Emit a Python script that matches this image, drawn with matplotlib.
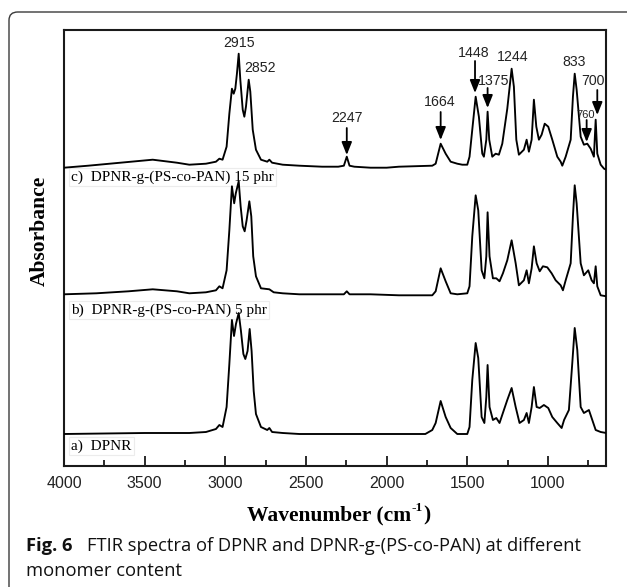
import matplotlib
matplotlib.use("Agg")
import matplotlib.pyplot as plt
from matplotlib.patches import FancyBboxPatch

# ---------------- data ----------------
# a) DPNR
a_wn = [4000, 3500, 3223, 3120, 3058, 3037, 3017, 2992, 2975, 2959, 2946, 2934, 2917, 2903, 2888, 2876,
        2862, 2849, 2837, 2824, 2810, 2779, 2740, 2727, 2710, 2644, 2541, 2200, 1924, 1760, 1717, 1696,
        1665, 1634, 1603, 1562, 1500, 1486, 1469, 1448, 1432, 1411, 1394, 1382, 1374, 1362, 1341, 1320,
        1300, 1273, 1252, 1225, 1200, 1176, 1149, 1132, 1118, 1101, 1087, 1070, 1051, 1025, 998, 973,
        942, 915, 900, 870, 849, 834, 818, 797, 777, 746, 725, 704, 673, 638]
a_abs = [0.0, 0.01, 0.01, 0.02, 0.05, 0.09, 0.07, 0.27, 0.70, 1.14, 0.98, 1.10, 1.21, 1.03, 0.80, 0.75,
         0.83, 1.05, 0.83, 0.43, 0.20, 0.07, 0.04, 0.06, 0.02, 0.01, 0.00, 0.00, 0.00, 0.00, 0.04, 0.11,
         0.33, 0.17, 0.06, 0.00, 0.00, 0.07, 0.54, 0.91, 0.76, 0.17, 0.11, 0.37, 0.69, 0.27, 0.14, 0.16,
         0.11, 0.24, 0.34, 0.46, 0.27, 0.11, 0.14, 0.21, 0.11, 0.27, 0.47, 0.27, 0.26, 0.29, 0.26, 0.17,
         0.11, 0.06, 0.14, 0.24, 0.71, 1.06, 0.84, 0.27, 0.21, 0.24, 0.14, 0.04, 0.02, 0.01]

# b) DPNR-g-(PS-co-PAN) 5 phr
b_wn = [4000, 3800, 3600, 3450, 3300, 3223, 3120, 3058, 3037, 3017, 2992, 2975, 2959, 2945, 2935, 2917,
        2905, 2892, 2880, 2868, 2851, 2839, 2827, 2810, 2779, 2727, 2700, 2644, 2541, 2400, 2265, 2247,
        2230, 2100, 1924, 1717, 1696, 1665, 1634, 1603, 1562, 1500, 1486, 1469, 1448, 1432, 1411, 1394,
        1382, 1374, 1362, 1341, 1320, 1300, 1279, 1252, 1225, 1200, 1180, 1149, 1132, 1118, 1101, 1087,
        1070, 1051, 1031, 1004, 977, 952, 921, 907, 890, 859, 845, 834, 822, 797, 777, 750, 729, 715,
        704, 694, 673, 638]
b_abs = [0.0, 0.01, 0.03, 0.05, 0.03, 0.01, 0.02, 0.04, 0.08, 0.06, 0.24, 0.64, 1.08, 0.91, 1.01, 1.13,
         0.88, 0.68, 0.63, 0.74, 0.93, 0.78, 0.38, 0.18, 0.06, 0.05, 0.02, 0.01, 0.00, 0.00, 0.00, 0.03,
         0.00, 0.00, -0.01, -0.01, 0.03, 0.26, 0.13, 0.01, 0.00, 0.01, 0.08, 0.58, 0.99, 0.84, 0.24, 0.16,
         0.38, 0.82, 0.38, 0.16, 0.16, 0.13, 0.21, 0.34, 0.54, 0.31, 0.09, 0.14, 0.24, 0.11, 0.26, 0.48,
         0.31, 0.23, 0.28, 0.27, 0.21, 0.14, 0.09, 0.04, 0.14, 0.31, 0.78, 1.09, 0.91, 0.31, 0.19, 0.24,
         0.14, 0.11, 0.28, 0.08, -0.01, -0.02]

# c) DPNR-g-(PS-co-PAN) 15 phr
c_wn = [4000, 3850, 3650, 3450, 3300, 3223, 3120, 3058, 3037, 3017, 2992, 2975, 2959, 2948, 2938, 2928,
        2917, 2907, 2892, 2882, 2872, 2855, 2845, 2830, 2810, 2779, 2740, 2727, 2710, 2644, 2541, 2400,
        2300, 2265, 2247, 2230, 2200, 2100, 2000, 1924, 1717, 1696, 1665, 1634, 1603, 1562, 1531, 1500,
        1486, 1469, 1448, 1428, 1407, 1397, 1382, 1374, 1364, 1345, 1324, 1304, 1283, 1252, 1225, 1211,
        1196, 1180, 1149, 1132, 1118, 1101, 1087, 1072, 1056, 1039, 1020, 998, 973, 942, 921, 911, 890,
        859, 845, 834, 822, 797, 777, 756, 735, 715, 704, 694, 673, 652, 638]
c_abs = [-0.01, 0.01, 0.04, 0.07, 0.04, 0.02, 0.03, 0.05, 0.08, 0.07, 0.20, 0.53, 0.78, 0.73, 0.78, 0.93,
         1.13, 0.87, 0.57, 0.50, 0.60, 0.87, 0.75, 0.37, 0.17, 0.07, 0.05, 0.07, 0.04, 0.02, 0.01, 0.00,
         0.00, 0.01, 0.10, 0.01, 0.00, -0.01, -0.01, 0.00, 0.01, 0.03, 0.23, 0.13, 0.05, 0.03, 0.02, 0.02,
         0.10, 0.37, 0.70, 0.50, 0.13, 0.10, 0.27, 0.55, 0.27, 0.10, 0.13, 0.12, 0.23, 0.58, 0.98, 0.80,
         0.27, 0.12, 0.17, 0.27, 0.15, 0.27, 0.67, 0.40, 0.27, 0.32, 0.43, 0.40, 0.27, 0.10, 0.05, 0.01, 0.10,
         0.27, 0.70, 0.93, 0.77, 0.30, 0.22, 0.23, 0.18, 0.10, 0.47, 0.13, 0.02, -0.02, -0.03]

series_names = ["a)  DPNR", "b)  DPNR-g-(PS-co-PAN) 5 phr", "c)  DPNR-g-(PS-co-PAN) 15 phr"]
series_offsets = [0.32, 1.717, 2.993]
label_y = [0.20, 1.56, 2.89]

# peak annotations on spectrum c: label, text x, text y, arrow x, arrow tail y, arrow head y
peak_labels = ["2915", "2852", "2247", "1664", "1448", "1375", "1244", "833", "760", "700"]
peak_text_x = [2912, 2785, 2246, 1669, 1458, 1335, 1221, 839, 764, 720]
peak_text_y = [4.23, 3.98, 3.48, 3.64, 4.13, 3.85, 4.09, 4.04, 3.51, 3.85]
arrow_x = [None, None, 2247, 1665, 1452, 1374, None, None, 760, 694]
arrow_tail = [None, None, 3.38, 3.54, 4.05, 3.78, None, None, 3.46, 3.76]
arrow_head = [None, None, 3.11, 3.26, 3.73, 3.58, None, None, 3.24, 3.51]

x_major = [4000, 3500, 3000, 2500, 2000, 1500, 1000]
x_minor = [3750, 3250, 2750, 2250, 1750, 1250, 750]

# ---------------- figure ----------------
W, H = 627, 587
fig = plt.figure(figsize=(W / 100, H / 100), dpi=100)
fig.patch.set_facecolor("white")

# outer rounded frame
frame = FancyBboxPatch((9 / W, -0.05), (636 - 9) / W, (587 - 12) / H + 0.05,
                       boxstyle="round,pad=0,rounding_size=0.014",
                       transform=fig.transFigure, facecolor="none",
                       edgecolor="#3a3a3a", lw=1.0, clip_on=False)
fig.patches.append(frame)

ax = fig.add_axes([64 / W, 1 - 466 / H, (606 - 64) / W, (466 - 30) / H])
ax.set_xlim(4000, 640)
ax.set_ylim(0, 4.36)

spectra = [(a_wn, a_abs), (b_wn, b_abs), (c_wn, c_abs)]
for (wn, ab), off in zip(spectra, series_offsets):
    ax.plot(wn, [v + off for v in ab], color="black", lw=1.35, zorder=3,
            solid_joinstyle="round")

serif = ["Liberation Serif", "DejaVu Serif"]
sans = ["Liberation Sans", "DejaVu Sans"]

for name, ly in zip(series_names, label_y):
    ax.text(3955, ly, name, fontsize=11, family=serif, va="center", ha="left", zorder=2,
            bbox=dict(boxstyle="square,pad=0.15", facecolor="white", edgecolor="#ececec", lw=0.8))

for lab, tx, ty, axx, at, ah in zip(peak_labels, peak_text_x, peak_text_y, arrow_x, arrow_tail, arrow_head):
    fs = 8 if lab == "760" else 10.2
    ax.text(tx, ty, lab, fontsize=fs, family=sans, ha="center", va="center",
            color="#222222", zorder=4)
    if axx is not None:
        ax.annotate("", xy=(axx, ah), xytext=(axx, at),
                    arrowprops=dict(arrowstyle="-|>,head_length=0.7,head_width=0.28",
                                    lw=1.3, color="black", shrinkA=0, shrinkB=0,
                                    mutation_scale=11), zorder=4)

# axes styling
for s in ax.spines.values():
    s.set_linewidth(1.5)
    s.set_color("#1a1a1a")
ax.set_yticks([])
ax.set_xticks(x_major)
ax.set_xticks(x_minor, minor=True)
ax.set_xticklabels([str(v) for v in x_major], fontsize=11.5, family=sans, color="#222222")
ax.tick_params(axis="x", which="major", direction="in", length=7, width=1.3, pad=7,
               top=False, color="#1a1a1a")
ax.tick_params(axis="x", which="minor", direction="in", length=4, width=1.3, top=False,
               color="#1a1a1a")

# y label
fig.text(40 / W, 1 - 231 / H, "Absorbance", fontsize=15.5, family=serif, fontweight="bold",
         rotation=90, ha="center", va="center")

# x label built from pieces: "Wavenumber (cm" + superscript "-1" + ")"
renderer = fig.canvas.get_renderer()
fs_x = 15.5
base_y = 1 - 520 / H
t1 = fig.text(0, base_y, "Wavenumber (cm", fontsize=fs_x, family=serif, fontweight="bold",
              ha="left", va="baseline")
t2 = fig.text(0, base_y, "-1", fontsize=fs_x * 0.62, family=serif, fontweight="bold",
              ha="left", va="baseline")
t3 = fig.text(0, base_y, ")", fontsize=fs_x, family=serif, fontweight="bold",
              ha="left", va="baseline")
w1 = t1.get_window_extent(renderer).width
w2 = t2.get_window_extent(renderer).width
w3 = t3.get_window_extent(renderer).width
x0 = 338 - (w1 + w2 + w3) / 2
t1.set_x(x0 / W)
t2.set_x((x0 + w1 + 0.5) / W)
t2.set_y(base_y + (fs_x * 0.42 * 100 / 72) / H)
t3.set_x((x0 + w1 + w2 + 1) / W)

# caption
cap_font = ["Open Sans", "Noto Sans", "DejaVu Sans"]
cap_fs = 13.2
fig.text(26 / W, 1 - 546 / H, "Fig. 6", fontsize=cap_fs, family=cap_font, fontweight="bold",
         ha="left", va="center", color="#111111")
fig.text(87 / W, 1 - 546 / H, "FTIR spectra of DPNR and DPNR-g-(PS-co-PAN) at different",
         fontsize=cap_fs, family=cap_font, ha="left", va="center", color="#111111")
fig.text(26 / W, 1 - 571 / H, "monomer content", fontsize=cap_fs, family=cap_font,
         ha="left", va="center", color="#111111")

fig.savefig("out.png", dpi=100, facecolor="white")
